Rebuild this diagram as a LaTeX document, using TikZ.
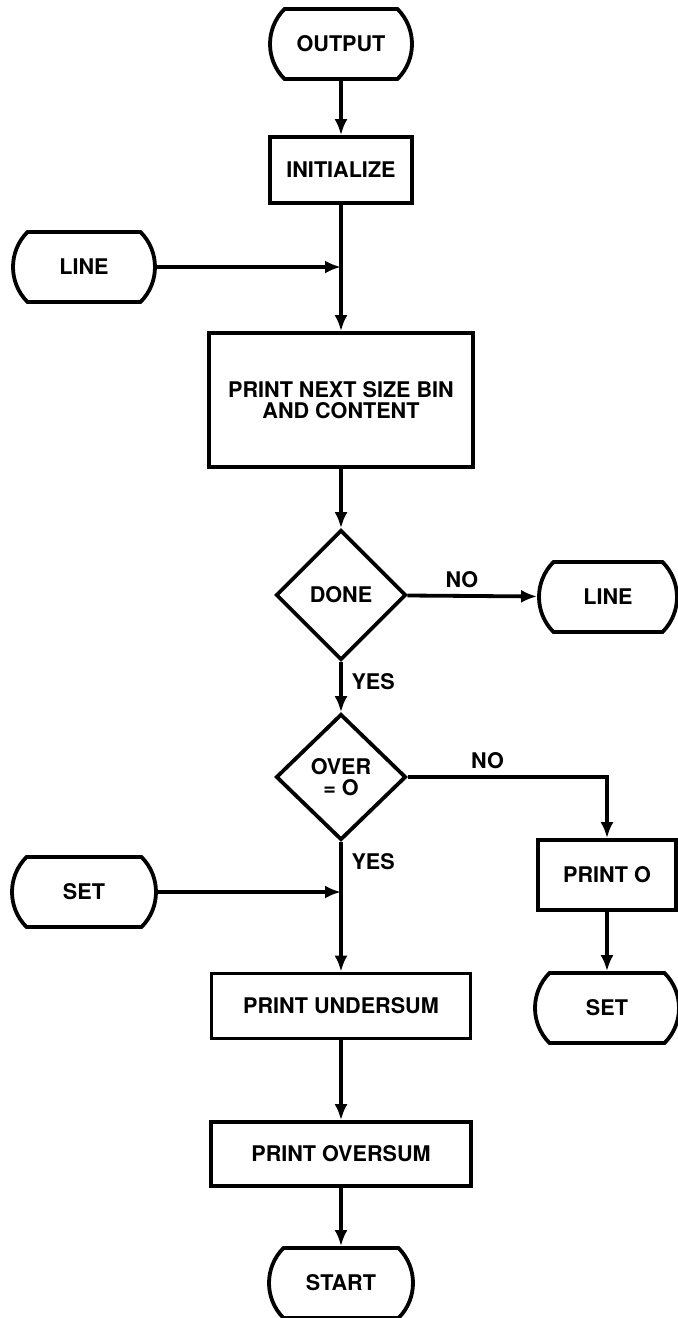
\documentclass[tikz,border=0pt]{standalone}
\usepackage{fontspec}
\setmainfont{TeX Gyre Heros}
\usetikzlibrary{shapes.misc,shapes.geometric,arrows.meta}

\begin{document}
\begin{tikzpicture}[x=0.5pt,y=-0.5pt,line width=1.9pt,
  font=\fontsize{10.8}{10.5}\selectfont\bfseries,
  term/.style={rounded rectangle,rounded rectangle arc length=90,draw,inner sep=0pt,minimum width=71pt,minimum height=35pt},
  box/.style={rectangle,draw,inner sep=0pt,align=center},
  dec/.style={diamond,draw,inner sep=0pt,aspect=1,align=center,minimum width=65pt,minimum height=65pt},
  arr/.style={-{Latex[length=8pt,width=6.5pt]}}]
\useasboundingbox (0,0) rectangle (677,1318);
% main column
\node [term] (out) at (341,44) {OUTPUT};
\node [box,minimum width=71pt,minimum height=33pt] (init) at (341,170) {INITIALIZE};
\node [term] (line1) at (84,267) {LINE};
\coordinate (j1) at (341,267);
\node [box,minimum width=132pt,minimum height=67pt] (pbin) at (341,400) {PRINT NEXT SIZE BIN\\AND CONTENT};
\node [dec] (done) at (341,595) {DONE};
\node [term,minimum width=69pt] (line2) at (608,597) {LINE};
\node [dec,minimum height=63pt] (over) at (341,777) {OVER\\= O};
\node [box,minimum width=69pt,minimum height=35pt] (print0) at (607,875) {PRINT O};
\node [term,minimum width=72pt] (set2) at (607,1008) {SET};
\node [term,minimum width=72pt] (set1) at (84,892) {SET};
\coordinate (j2) at (341,892);
\node [box,minimum width=129.5pt,minimum height=32.5pt] (under) at (341,1006) {PRINT UNDERSUM};
\node [box,minimum width=130pt,minimum height=32pt] (oversum) at (341,1154) {PRINT OVERSUM};
\node [term,minimum width=72pt] (start) at (341,1283) {START};

% connectors
\draw [arr] (out) -- (init);
\draw [arr] (init) -- (pbin);
\draw [arr] (line1) -- (j1);
\draw [arr] (pbin) -- (done);
\draw [arr] (done) -- node [above,pos=0.42] (no1) {NO} (line2);
\draw [arr] (done) -- node [right,pos=0.4,xshift=1pt] (yes1) {YES} (over);
\draw [arr] (over.east) -| node [above,pos=0.2] (no2) {NO} (print0);
\draw [arr] (print0) -- (set2);
\draw [arr] (over) -- node [right,pos=0.15,xshift=1pt] (yes2) {YES} (under);
\draw [arr] (set1) -- (j2);
\draw [arr] (under) -- (oversum);
\draw [arr] (oversum) -- (start);
\end{tikzpicture}
\end{document}
